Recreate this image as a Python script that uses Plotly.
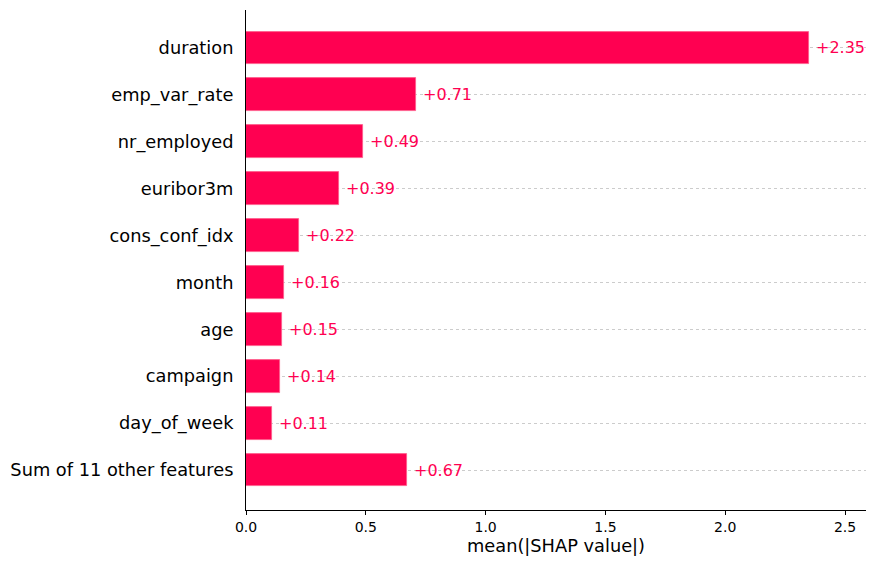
import plotly.graph_objects as go

# features from top to bottom, with their mean |SHAP| values
features = ["duration", "emp_var_rate", "nr_employed", "euribor3m", "cons_conf_idx",
            "month", "age", "campaign", "day_of_week", "Sum of 11 other features"]
values = [2.35, 0.71, 0.49, 0.39, 0.22, 0.16, 0.15, 0.14, 0.11, 0.67]
x_ticks = [0.0, 0.5, 1.0, 1.5, 2.0, 2.5]

red = "#ff0051"
# bottom bar sits at y=0
ypos = list(range(len(features)))[::-1]

fig = go.Figure()
fig.add_trace(go.Bar(
    x=values, y=ypos, orientation="h", width=0.7,
    marker=dict(color=red, line=dict(color="#ff5a8a", width=0.8)),
    hoverinfo="skip",
))

for v, y in zip(values, ypos):
    fig.add_annotation(x=v, y=y, text="+%.2f" % v, showarrow=False,
                       xanchor="left", xshift=5,
                       font=dict(family="DejaVu Sans", size=16, color=red))

# page body has an 8px margin, so the figure is a bit smaller than the window
fig.update_layout(
    width=868, height=560,
    margin=dict(l=238, r=10, t=2, b=58, autoexpand=False),
    plot_bgcolor="white", paper_bgcolor="white",
    showlegend=False, bargap=0,
    font=dict(family="DejaVu Sans", color="black"),
)
fig.update_xaxes(
    range=[0, 2.5875], tickvals=x_ticks, ticktext=["%.1f" % t for t in x_ticks],
    showgrid=False, zeroline=False, showline=True, linecolor="black", linewidth=1,
    ticks="outside", ticklen=4, tickcolor="black", tickfont=dict(size=14),
    title=dict(text="mean(|SHAP value|)", font=dict(size=17.8), standoff=4),
    automargin=False,
)
fig.update_yaxes(
    range=[-0.853, 9.81], tickvals=ypos, ticktext=features,
    showgrid=True, gridcolor="#cccccc", griddash="dot", gridwidth=1,
    zeroline=False, showline=True, linecolor="black", linewidth=1,
    ticks="", ticklabelstandoff=8, tickfont=dict(size=17.8),
    automargin=False,
)

fig.write_html("out.html")
